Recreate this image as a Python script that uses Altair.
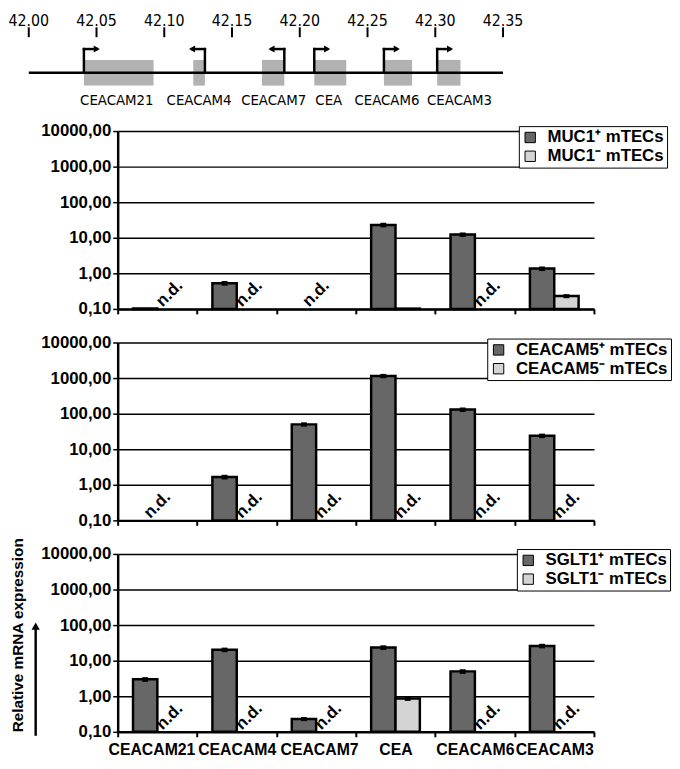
import altair as alt
import pandas as pd

# ---------------- data ----------------
# genomic map (Mb)
map_ticks = [42.00, 42.05, 42.10, 42.15, 42.20, 42.25, 42.30, 42.35]
gene_names = ["CEACAM21", "CEACAM4", "CEACAM7", "CEA", "CEACAM6", "CEACAM3"]
gene_start = [42.0407, 42.1214, 42.1721, 42.2107, 42.2621, 42.3014]
gene_end = [42.0921, 42.1300, 42.1886, 42.2343, 42.2829, 42.3186]
gene_strand = ["+", "-", "-", "+", "+", "+"]
gene_label_pos = [42.0650, 42.1257, 42.1807, 42.2214, 42.2643, 42.3179]

# expression panels (None = n.d.)
genes = ["CEACAM21", "CEACAM4", "CEACAM7", "CEA", "CEACAM6", "CEACAM3"]

muc1_pos = [0.103, 0.53, None, 23.0, 12.3, 1.36]
muc1_pos_err = [0.0, 0.08, None, 3.4, 1.8, 0.2]
muc1_neg = [None, None, None, 0.102, None, 0.23]
muc1_neg_err = [None, None, None, 0.0, None, 0.03]

ceacam5_pos = [None, 1.66, 50.0, 1150.0, 130.0, 24.0]
ceacam5_pos_err = [None, 0.25, 7.0, 160.0, 19.0, 3.5]
ceacam5_neg = [None, None, None, None, None, None]
ceacam5_neg_err = [None, None, None, None, None, None]

sglt1_pos = [2.99, 20.3, 0.23, 23.5, 5.0, 26.0]
sglt1_pos_err = [0.45, 3.0, 0.03, 3.5, 0.75, 3.8]
sglt1_neg = [None, None, None, 0.86, None, None]
sglt1_neg_err = [None, None, None, 0.12, None, None]

# ---------------- style ----------------
FONT = "Liberation Sans, Arial, Helvetica, sans-serif"
NARROW = "DejaVu Sans Condensed, Liberation Sans, sans-serif"
W = 482
H = 180
SP = 34
MAP_H = 83.5
DARK = "#676767"
LIGHT = "#d4d4d4"

# ---------------- genomic map ----------------
px_per_mb = 480 / 0.35
d0 = map_ticks[0] + 90 / px_per_mb
d1 = d0 + W / px_per_mb
xs = alt.Scale(domain=[d0, d1], nice=False, zero=False)

tick_df = pd.DataFrame({"pos": map_ticks, "label": [f"{v:.2f}" for v in map_ticks]})
gene_df = pd.DataFrame({
    "gene": gene_names, "start": gene_start, "end": gene_end,
    "strand": gene_strand, "label_pos": gene_label_pos,
})
sign = gene_df["strand"].map({"+": 1, "-": -1})
gene_df["tss"] = gene_df["start"].where(gene_df["strand"] == "+", gene_df["end"])
arrow_len = 13 / px_per_mb
gene_df["tip"] = gene_df["tss"] + sign * arrow_len
line_df = pd.DataFrame({"x0": [map_ticks[0]], "x1": [map_ticks[-1]]})

m_ticks = alt.Chart(tick_df).mark_rule(color="black", strokeWidth=2).encode(
    x=alt.X("pos:Q", scale=xs, axis=None), y=alt.value(13), y2=alt.value(23))
m_tlab = alt.Chart(tick_df).mark_text(font=NARROW, fontSize=16, baseline="middle", color="black").encode(
    x=alt.X("pos:Q", scale=xs, axis=None), y=alt.value(6.5), text="label:N")
m_box = alt.Chart(gene_df).mark_rect(color="#b2b2b2").encode(
    x=alt.X("start:Q", scale=xs, axis=None), x2="end:Q", y=alt.value(46), y2=alt.value(72))
m_line = alt.Chart(line_df).mark_rule(color="black", strokeWidth=2.5).encode(
    x=alt.X("x0:Q", scale=xs, axis=None), x2="x1:Q", y=alt.value(59))
m_av = alt.Chart(gene_df).mark_rule(color="black", strokeWidth=2.5, strokeCap="square").encode(
    x=alt.X("tss:Q", scale=xs, axis=None), y=alt.value(35), y2=alt.value(59))
m_ah = alt.Chart(gene_df).mark_rule(color="black", strokeWidth=2.5, strokeCap="square").encode(
    x=alt.X("tss:Q", scale=xs, axis=None), x2="tip:Q", y=alt.value(35))
m_head = alt.Chart(gene_df).mark_point(filled=True, color="black", size=50, opacity=1).encode(
    x=alt.X("tip:Q", scale=xs, axis=None), y=alt.value(35),
    shape=alt.Shape("strand:N", scale=alt.Scale(domain=["+", "-"], range=["triangle-right", "triangle-left"]), legend=None))
m_glab = alt.Chart(gene_df).mark_text(font=NARROW, fontSize=15, baseline="middle", color="black").encode(
    x=alt.X("label_pos:Q", scale=xs, axis=None), y=alt.value(87), text="gene:N")

gene_map = alt.layer(m_box, m_line, m_ticks, m_tlab, m_av, m_ah, m_head, m_glab).properties(width=W, height=MAP_H)


# ---------------- expression panels ----------------
def make_panel(marker, pos, pos_err, neg, neg_err, legend_x, legend_y, bottom):
    plus = f"{marker}\u207a mTECs"
    minus = f"{marker}\u207b mTECs"
    rows, err_rows, nd_off, nd_mid = [], [], [], []
    for i, g in enumerate(genes):
        for s, vals, errs in ((plus, pos, pos_err), (minus, neg, neg_err)):
            v, e = vals[i], errs[i]
            if v is not None:
                rows.append({"gene": g, "series": s, "value": v})
                if e:
                    err_rows.append({"gene": g, "series": s, "lo": v - e, "hi": v + e})
        if pos[i] is None and neg[i] is None:
            nd_mid.append({"gene": g})
        elif neg[i] is None:
            nd_off.append({"gene": g, "series": minus})
        elif pos[i] is None:
            nd_off.append({"gene": g, "series": plus})

    xenc = alt.X("gene:N", scale=alt.Scale(domain=genes, paddingInner=0, paddingOuter=0), title=None,
                 axis=alt.Axis(tickBand="extent", labels=bottom, domainColor="black", domainWidth=2.5,
                               tickColor="black", tickWidth=2, tickSize=5, labelAngle=0, labelFontSize=16,
                               labelFontWeight="bold", labelColor="black", labelPadding=5, labelFont=FONT,
                               labelOffset={"condition": [
                                   {"test": "datum.value === 'CEACAM21'", "value": -6},
                                   {"test": "datum.value === 'CEACAM7'", "value": 3}],
                                   "value": 0},
                               grid=False))
    xoff = alt.XOffset("series:N", scale=alt.Scale(domain=[plus, minus], paddingInner=0, paddingOuter=0.63))
    yaxis = alt.Axis(values=[0.1, 1, 10, 100, 1000, 10000],
                     labelExpr="replace(format(datum.value, '.2f'), '.', ',')",
                     grid=True, gridColor="black", gridWidth=1.5, domainColor="black", domainWidth=2.5,
                     tickColor="black", tickSize=5, tickWidth=1.5, labelFontSize=17, labelFontWeight="bold",
                     labelFont=FONT, labelColor="black", labelPadding=2,
                     titleFont=FONT, titleFontSize=15.5, titleFontWeight="bold", titleColor="black",
                     titleAnchor="start", titlePadding=15)
    yscale = alt.Scale(type="log", domain=[0.1, 10000])
    color = alt.Color("series:N", scale=alt.Scale(domain=[plus, minus], range=[DARK, LIGHT]),
                      legend=alt.Legend(orient="none", legendX=legend_x, legendY=legend_y, title=None,
                                        fillColor="white", strokeColor="black", padding=3,
                                        labelFont=FONT, labelFontSize=17, labelFontWeight="bold",
                                        labelColor="black", symbolType="square", symbolSize=110,
                                        symbolStrokeColor="black", symbolStrokeWidth=1,
                                        rowPadding=1, labelOffset=9, labelLimit=300))

    ytitle = "Relative mRNA expression" if bottom else None
    bars = alt.Chart(pd.DataFrame(rows)).mark_bar(stroke="black", strokeWidth=2.5).encode(
        x=xenc, xOffset=xoff,
        y=alt.Y("value:Q", scale=yscale, axis=yaxis, title=ytitle),
        y2=alt.datum(0.1),
        color=color)
    layers = [bars]
    if err_rows:
        layers.append(alt.Chart(pd.DataFrame(err_rows)).mark_rule(color="black", strokeWidth=6).encode(
            x=xenc, xOffset=xoff, y="lo:Q", y2="hi:Q"))
    nd_style = dict(text="n.d.", angle=315, fontSize=17, fontWeight="bold", font=FONT,
                    color="black", align="center", baseline="middle")
    if nd_off:
        layers.append(alt.Chart(pd.DataFrame(nd_off)).mark_text(**nd_style).encode(
            x=xenc, xOffset=xoff, y=alt.datum(0.27)))
    if nd_mid:
        layers.append(alt.Chart(pd.DataFrame(nd_mid)).mark_text(**nd_style).encode(
            x=xenc, y=alt.datum(0.27)))
    if bottom:
        arrow_df = pd.DataFrame({"k": [0]})
        layers.append(alt.Chart(arrow_df).mark_rule(color="black", strokeWidth=2.5).encode(
            x=alt.value(-83), y=alt.value(75), y2=alt.value(H + 4)))
        layers.append(alt.Chart(arrow_df).mark_point(shape="triangle-up", filled=True, color="black",
                                                     size=70, opacity=1).encode(
            x=alt.value(-83), y=alt.value(73)))
    return alt.layer(*layers).properties(width=W, height=H)


p1 = make_panel("MUC1", muc1_pos, muc1_pos_err, muc1_neg, muc1_neg_err, 406, -5, False)
p2 = make_panel("CEACAM5", ceacam5_pos, ceacam5_pos_err, ceacam5_neg, ceacam5_neg_err, 374, -4, False)
p3 = make_panel("SGLT1", sglt1_pos, sglt1_pos_err, sglt1_neg, sglt1_neg_err, 404, -5, True)

chart = alt.vconcat(gene_map, p1, p2, p3, spacing=SP, bounds="flush").resolve_scale(
    color="independent", xOffset="independent", x="independent", y="independent"
).resolve_legend(color="independent").properties(padding=0).configure_view(stroke=None)

chart.save("out.html", embed_options={"renderer": "svg", "actions": False})
